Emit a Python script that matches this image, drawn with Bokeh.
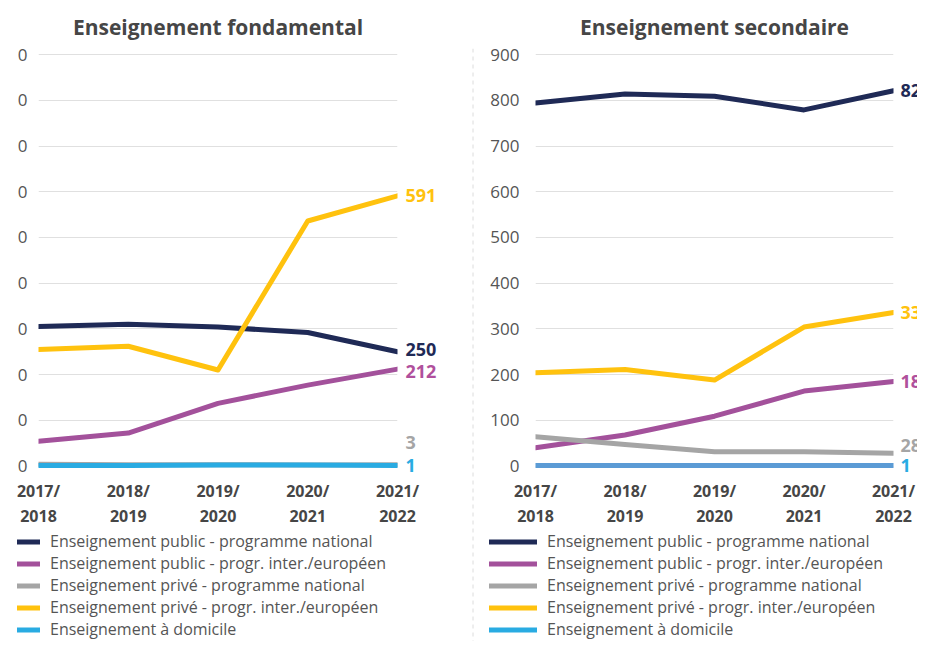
from bokeh.plotting import figure
from bokeh.models import Range1d, FixedTicker, Legend, LegendItem, Span
from bokeh.layouts import row, column
from bokeh.core.properties import value
from bokeh.embed import file_html
from bokeh.resources import INLINE

FONT = "Open Sans"
NAN = float("nan")

# ---- data ----
years = ["2017/\n2018", "2018/\n2019", "2019/\n2020", "2020/\n2021", "2021/\n2022"]
series_names = [
    "Enseignement public - programme national",
    "Enseignement public - progr. inter./européen",
    "Enseignement privé - programme national",
    "Enseignement privé - progr. inter./européen",
    "Enseignement à domicile",
]
y_ticks = [0, 100, 200, 300, 400, 500, 600, 700, 800, 900]

fond_public_nat = [305, 310, 304, 292, 250]
fond_public_int = [54, 72, 137, 177, 212]
fond_prive_nat = [4, 3, 3, 2, 3]
fond_prive_int = [255, 262, 210, 536, 591]
fond_domicile = [1, 1, 2, 2, 1]

sec_public_nat = [794, 814, 809, 779, 821]
sec_public_int = [40, 68, 109, 164, 185]
sec_prive_nat = [64, 47, 31, 31, 28]
sec_prive_int = [204, 211, 188, 304, 336]
sec_domicile = [1, 1, 1, 1, 1]

line_colors_fond = ["#1f2a56", "#a3519b", "#a5a5a5", "#ffc20e", "#29abe2"]
line_colors_sec = ["#1f2a56", "#a3519b", "#a5a5a5", "#ffc20e", "#5b9bd5"]
legend_colors = ["#1f2a56", "#a3519b", "#a5a5a5", "#ffc20e", "#29abe2"]
label_colors = ["#1f2a56", "#b0509c", "#a5a5a5", "#ffc20e", "#29abe2"]

H_TOTAL = 641
H_CHART = 530
H_LEGEND = H_TOTAL - H_CHART


def make_chart(title, data, line_colors, label_offsets, width, border_left, border_right,
               tick_overrides, y_standoff, label_dx):
    xs = list(range(len(years)))
    p = figure(width=width, height=H_CHART, output_backend="svg", toolbar_location=None,
               x_range=Range1d(0, len(years) - 1), y_range=Range1d(-12, 909),
               min_border_left=border_left, min_border_right=border_right,
               min_border_top=49, min_border_bottom=57)
    p.outline_line_color = None
    p.background_fill_color = "white"
    p.border_fill_color = "white"

    p.title.text = title
    p.title.align = "center"
    p.title.text_font = FONT
    p.title.text_font_size = "21px"
    p.title.text_font_style = "bold"
    p.title.text_color = "#464646"
    p.title.standoff = 20

    p.xgrid.grid_line_color = None
    p.ygrid.grid_line_color = "#e0e0e0"
    p.ygrid.grid_line_width = 1

    p.yaxis.ticker = FixedTicker(ticks=y_ticks)
    if tick_overrides is not None:
        p.yaxis.major_label_overrides = tick_overrides
    p.yaxis.axis_line_color = None
    p.yaxis.major_tick_line_color = None
    p.yaxis.minor_tick_line_color = None
    p.yaxis.major_label_standoff = y_standoff
    p.yaxis.major_label_text_font = FONT
    p.yaxis.major_label_text_font_size = "17px"
    p.yaxis.major_label_text_color = "#555555"

    p.xaxis.ticker = FixedTicker(ticks=xs)
    p.xaxis.major_label_overrides = {i: y for i, y in enumerate(years)}
    p.xaxis.axis_line_color = None
    p.xaxis.major_tick_line_color = None
    p.xaxis.minor_tick_line_color = None
    p.xaxis.major_label_standoff = 2
    p.xaxis.major_label_text_font = FONT
    p.xaxis.major_label_text_font_size = "16px"
    p.xaxis.major_label_text_font_style = "bold"
    p.xaxis.major_label_text_color = "#464646"
    p.xaxis.major_label_text_line_height = 1.17

    for vals, lc in zip(data, line_colors):
        p.line(xs, vals, line_color=lc, line_width=5, line_cap="round", line_join="round")

    for vals, tc, off in zip(data, label_colors, label_offsets):
        p.text(x=[xs[-1]], y=[vals[-1]], text=[str(vals[-1])], x_offset=label_dx, y_offset=off,
               text_color=tc, text_font=value(FONT), text_font_size="18px",
               text_font_style="bold", text_baseline="middle", text_align="left",
               level="overlay")
    return p


def make_legend(width, border_left, glyph_w):
    lp = figure(width=width, height=H_LEGEND, output_backend="svg", toolbar_location=None,
                x_axis_location=None, y_axis_location=None, frame_align=False,
                x_range=Range1d(0, 1), y_range=Range1d(0, 1),
                min_border_left=border_left, min_border_right=0,
                min_border_top=0, min_border_bottom=0)
    lp.outline_line_color = None
    lp.xgrid.grid_line_color = None
    lp.ygrid.grid_line_color = None
    items = []
    for name, lc in zip(series_names, legend_colors):
        # swatch only: a single undefined point draws nothing in the plot area
        r = lp.line(x=[NAN], y=[NAN], line_color=lc, line_width=5, line_cap="round")
        items.append(LegendItem(label=name, renderers=[r]))
    legend = Legend(items=items, location="top_left", orientation="vertical",
                    glyph_width=glyph_w, glyph_height=15, label_height=15,
                    label_standoff=10, spacing=0, padding=0, margin=0,
                    border_line_alpha=0, background_fill_alpha=0,
                    label_text_font=FONT, label_text_font_size="16px",
                    label_text_color="#555555")
    lp.add_layout(legend, "center")
    return lp


fond_data = [fond_public_nat, fond_public_int, fond_prive_nat, fond_prive_int, fond_domicile]
sec_data = [sec_public_nat, sec_public_int, sec_prive_nat, sec_prive_int, sec_domicile]

left = make_chart("Enseignement fondamental", fond_data, line_colors_fond,
                  [-2, 2, -22, 0, 0], 465, 38, 68, {t: "0" for t in y_ticks}, 5, 8)
right = make_chart("Enseignement secondaire", sec_data, line_colors_sec,
                   [0, 0, -8, 0, 0], 442, 60, 24, None, 10, 7)
left_leg = make_legend(465, 17, 23)
right_leg = make_legend(442, 14, 48)

# dashed vertical separator between the two panels
sep = figure(width=10, height=H_TOTAL, output_backend="svg", toolbar_location=None,
             x_range=Range1d(0, 10), y_range=Range1d(0, 1), frame_align=False,
             x_axis_location=None, y_axis_location=None,
             min_border_left=0, min_border_right=0, min_border_top=48, min_border_bottom=0)
sep.outline_line_color = None
sep.xgrid.grid_line_color = None
sep.ygrid.grid_line_color = None
sep.add_layout(Span(location=7.5, dimension="height", line_color="#dcdcdc",
                    line_width=1, line_dash="4 4"))

layout = row(column(left, left_leg), sep, column(right, right_leg))

open("out.html", "w").write(file_html(layout, INLINE))
